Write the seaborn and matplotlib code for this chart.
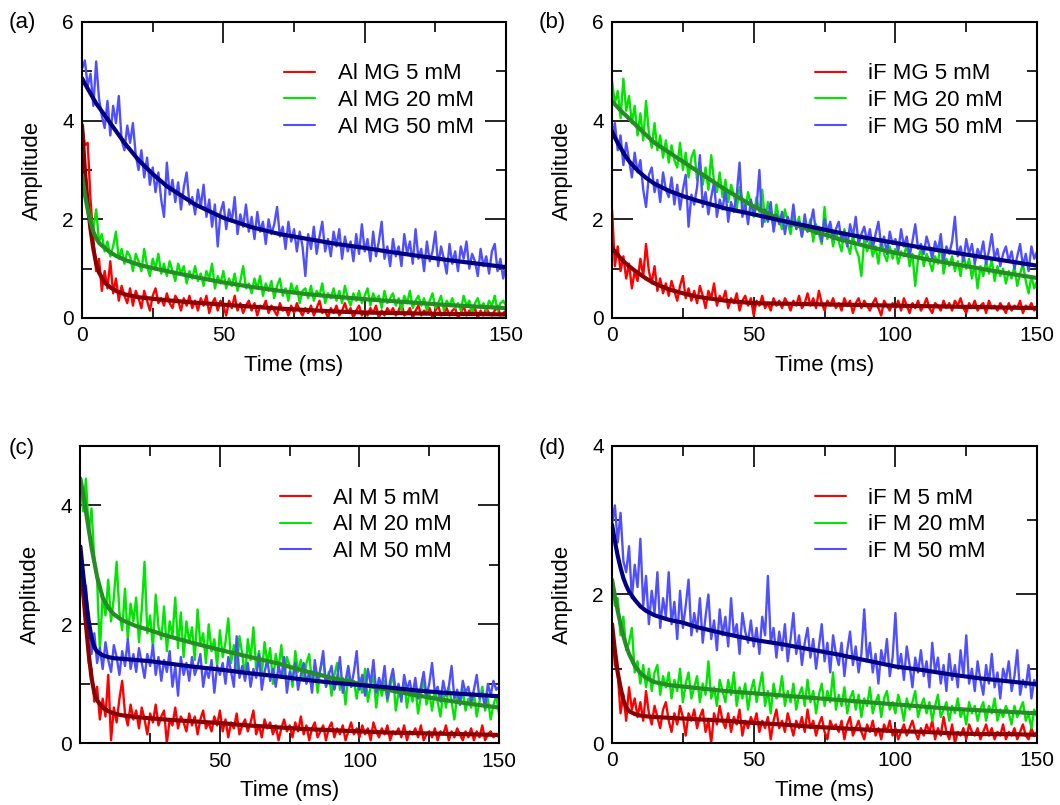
import numpy as np
import matplotlib
matplotlib.use("Agg")
import matplotlib.pyplot as plt
from matplotlib.ticker import MultipleLocator, FixedLocator
import seaborn as sns

# ---------------- data ----------------
T = np.arange(0, 151)  # ms, 1 ms sampling of the measured traces
FIT_T = [0, 1, 2, 3, 4, 5, 6, 8, 10, 12, 15, 20, 25, 30, 40, 50, 60, 70,
         80, 90, 100, 110, 120, 130, 140, 150]

# (a) Al MG
A_RED = [3.95, 3.50, 3.55, 2.40, 1.60, 0.95, 1.20, 0.55, 0.95, 0.60,
         1.15, 0.50, 0.80, 0.35, 0.65, 0.45, 0.30, 0.60, 0.25, 0.55,
         0.40, 0.20, 0.55, 0.35, 0.15, 0.45, 0.60, 0.30, 0.40, 0.25,
         0.50, 0.30, 0.20, 0.45, 0.35, 0.15, 0.40, 0.25, 0.45, 0.20,
         0.35, 0.15, 0.40, 0.25, 0.45, 0.10, 0.30, 0.40, 0.15, 0.35,
         0.25, 0.05, 0.35, 0.20, 0.45, 0.15, 0.30, 0.10, 0.25, 0.35,
         0.15, 0.30, 0.05, 0.25, 0.20, 0.35, 0.10, 0.25, 0.15, 0.05,
         0.30, 0.15, 0.20, 0.05, 0.25, 0.10, 0.30, 0.15, 0.05, 0.20,
         0.10, 0.25, 0.05, 0.20, 0.35, 0.10, 0.15, 0.00, 0.20, 0.10,
         0.25, 0.05, 0.15, 0.30, 0.10, 0.20, 0.00, 0.15, 0.25, 0.05,
         0.15, 0.05, 0.20, 0.10, 0.25, 0.00, 0.15, 0.05, 0.20, 0.10,
         0.20, 0.05, 0.15, 0.30, 0.05, 0.10, 0.20, 0.00, 0.15, 0.25,
         0.05, 0.15, 0.10, 0.20, 0.00, 0.15, 0.25, 0.05, 0.10, 0.20,
         0.05, 0.15, 0.20, 0.00, 0.10, 0.25, 0.05, 0.15, 0.10, 0.20,
         0.00, 0.15, 0.05, 0.20, 0.10, 0.05, 0.15, 0.25, 0.05, 0.10,
         0.15]
A_GREEN = [2.95, 2.60, 2.45, 2.05, 1.80, 2.20, 1.55, 1.70, 1.35, 1.55,
           1.25, 1.45, 1.75, 1.20, 1.40, 1.10, 1.35, 1.25, 0.95, 1.30,
           1.15, 0.95, 1.40, 1.05, 0.85, 1.20, 1.00, 1.30, 0.90, 1.10,
           0.85, 1.15, 0.95, 0.75, 1.10, 0.90, 1.05, 0.70, 0.95, 0.80,
           1.05, 0.75, 0.90, 0.65, 0.95, 0.80, 1.10, 0.60, 0.85, 0.70,
           0.95, 0.60, 0.80, 0.65, 0.90, 0.55, 0.75, 1.05, 0.60, 0.70,
           0.50, 0.80, 0.60, 0.85, 0.45, 0.70, 0.55, 0.75, 0.40, 0.65,
           0.80, 0.45, 0.60, 0.35, 0.70, 0.50, 0.65, 0.30, 0.55, 0.60,
           0.40, 0.65, 0.35, 0.55, 0.45, 0.70, 0.30, 0.50, 0.40, 0.60,
           0.35, 0.55, 0.30, 0.65, 0.40, 0.25, 0.50, 0.35, 0.55, 0.30,
           0.45, 0.60, 0.25, 0.50, 0.35, 0.45, 0.20, 0.55, 0.30, 0.40,
           0.50, 0.25, 0.40, 0.15, 0.45, 0.30, 0.55, 0.20, 0.35, 0.45,
           0.25, 0.40, 0.15, 0.35, 0.50, 0.20, 0.30, 0.45, 0.15, 0.35,
           0.25, 0.40, 0.20, 0.30, 0.15, 0.45, 0.25, 0.35, 0.10, 0.30,
           0.40, 0.20, 0.30, 0.15, 0.35, 0.25, 0.45, 0.15, 0.30, 0.35,
           0.25]
A_BLUE = [5.05, 5.22, 4.70, 4.95, 4.30, 5.20, 4.45, 4.10, 3.85, 4.40,
          3.70, 4.30, 3.95, 4.50, 3.60, 3.40, 3.90, 3.55, 3.95, 3.30,
          3.00, 3.40, 2.85, 3.25, 2.70, 3.05, 2.55, 2.95, 2.40, 2.05,
          3.15, 2.50, 2.80, 2.35, 2.75, 2.20, 2.65, 2.95, 2.30, 2.45,
          2.10, 2.60, 2.25, 2.70, 2.05, 2.40, 1.85, 2.30, 1.45, 2.15,
          2.35, 1.80, 2.20, 1.95, 2.45, 1.70, 2.10, 1.85, 2.30, 1.75,
          2.05, 1.60, 2.15, 1.75, 1.95, 1.50, 2.00, 1.70, 1.90, 2.25,
          1.65, 1.85, 1.40, 1.95, 1.55, 1.80, 1.35, 1.75, 1.45, 0.85,
          1.70, 1.40, 1.85, 1.30, 1.65, 1.95, 1.35, 1.60, 1.25, 1.75,
          1.45, 1.80, 1.20, 1.65, 1.35, 1.55, 1.15, 1.70, 1.30, 1.90,
          1.35, 1.60, 1.15, 1.75, 1.25, 1.55, 1.95, 1.20, 1.45, 1.05,
          1.60, 1.25, 1.45, 1.05, 1.70, 1.30, 1.55, 1.10, 1.80, 1.20,
          1.40, 0.95, 1.55, 1.15, 1.35, 1.75, 1.05, 1.45, 1.20, 0.90,
          1.50, 1.10, 1.35, 0.95, 1.45, 1.20, 1.55, 1.00, 1.30, 1.15,
          0.85, 1.40, 1.05, 1.25, 0.90, 1.35, 1.50, 0.95, 1.20, 0.80,
          1.10]
A_RED_FIT = [3.9, 3.0, 2.3, 1.8, 1.4, 1.1, 0.92, 0.72, 0.62, 0.55, 0.48, 0.42, 0.39,
             0.36, 0.31, 0.27, 0.23, 0.19, 0.16, 0.13, 0.11, 0.10, 0.09, 0.08, 0.08, 0.07]
A_GREEN_FIT = [2.9, 2.5, 2.2, 1.95, 1.75, 1.62, 1.52, 1.42, 1.33, 1.26, 1.18, 1.08, 1.01,
               0.95, 0.83, 0.72, 0.63, 0.55, 0.48, 0.43, 0.38, 0.34, 0.30, 0.26, 0.23, 0.20]
A_BLUE_FIT = [4.86, 4.75, 4.65, 4.55, 4.45, 4.35, 4.27, 4.11, 3.95, 3.79, 3.55, 3.20, 2.92,
              2.67, 2.30, 2.03, 1.84, 1.70, 1.60, 1.50, 1.42, 1.33, 1.25, 1.17, 1.10, 1.03]

# (b) iF MG
B_RED = [2.20, 1.05, 1.45, 0.95, 1.25, 0.80, 1.10, 0.60, 0.95, 0.75,
         1.20, 0.85, 1.50, 0.95, 0.70, 1.05, 0.55, 0.80, 0.50, 0.70,
         0.45, 0.75, 0.55, 0.35, 0.65, 0.85, 0.40, 0.60, 0.35, 0.55,
         0.30, 0.65, 0.45, 0.20, 0.55, 0.40, 0.70, 0.25, 0.45, 0.35,
         0.55, 0.20, 0.40, 0.30, 0.50, 0.15, 0.35, 0.45, 0.25, 0.40,
         0.05, 0.35, 0.25, 0.45, 0.20, 0.30, 0.15, 0.40, 0.25, 0.35,
         0.20, 0.40, 0.30, 0.15, 0.35, 0.25, 0.45, 0.20, 0.30, 0.50,
         0.25, 0.40, 0.20, 0.55, 0.30, 0.15, 0.35, 0.25, 0.40, 0.20,
         0.30, 0.15, 0.40, 0.25, 0.35, 0.10, 0.30, 0.40, 0.20, 0.35,
         0.25, 0.15, 0.30, 0.40, 0.20, 0.05, 0.35, 0.25, 0.15, 0.30,
         0.20, 0.35, 0.15, 0.40, 0.25, 0.10, 0.30, 0.20, 0.35, 0.15,
         0.25, 0.40, 0.20, 0.10, 0.30, 0.25, 0.15, 0.35, 0.20, 0.30,
         0.15, 0.35, 0.25, 0.40, 0.20, 0.10, 0.30, 0.20, 0.35, 0.15,
         0.25, 0.30, 0.10, 0.35, 0.20, 0.25, 0.15, 0.30, 0.20, 0.10,
         0.30, 0.15, 0.25, 0.20, 0.35, 0.10, 0.25, 0.20, 0.30, 0.15,
         0.25]
B_GREEN = [4.80, 4.35, 4.60, 4.05, 4.85, 4.20, 4.50, 3.95, 4.30, 3.70,
           4.15, 3.60, 4.40, 3.75, 3.45, 3.95, 3.40, 3.70, 3.25, 3.60,
           3.15, 3.50, 3.20, 3.05, 3.55, 3.00, 3.35, 2.85, 3.25, 3.40,
           2.80, 3.15, 2.70, 3.05, 2.60, 3.30, 2.75, 2.55, 2.95, 2.45,
           2.80, 2.35, 2.70, 2.50, 2.20, 2.65, 2.40, 2.15, 2.55, 2.30,
           2.05, 2.45, 2.15, 2.60, 1.95, 2.35, 2.10, 1.85, 2.30, 2.00,
           1.80, 2.20, 1.95, 1.70, 2.10, 1.85, 2.05, 1.65, 1.95, 1.75,
           2.00, 1.55, 1.90, 1.70, 1.50, 2.25, 1.60, 1.85, 1.45, 1.75,
           1.55, 1.35, 1.80, 1.50, 1.30, 1.70, 1.40, 1.25, 0.85, 1.60,
           1.35, 1.55, 1.25, 1.45, 1.10, 1.60, 1.30, 1.15, 1.45, 1.20,
           1.40, 1.10, 1.35, 1.25, 1.50, 1.05, 1.30, 0.65, 1.20, 1.40,
           1.05, 1.30, 1.15, 0.95, 1.25, 1.10, 1.55, 0.90, 1.20, 1.05,
           1.25, 0.95, 1.15, 0.85, 1.30, 1.00, 1.20, 0.80, 1.10, 0.60,
           1.05, 0.85, 1.15, 0.90, 1.20, 0.75, 1.05, 0.85, 1.00, 0.70,
           0.95, 0.80, 1.05, 0.65, 0.90, 1.10, 0.75, 0.50, 0.85, 0.60,
           0.75]
B_BLUE = [3.65, 3.95, 3.40, 3.70, 3.10, 3.55, 3.20, 2.85, 3.35, 2.95,
          3.20, 2.60, 2.25, 2.90, 3.05, 2.55, 2.80, 2.35, 2.95, 2.60,
          2.45, 2.85, 2.30, 2.70, 2.20, 2.60, 2.90, 1.85, 2.50, 2.30,
          2.65, 3.30, 2.25, 2.55, 2.10, 2.45, 2.75, 2.05, 2.40, 2.20,
          2.60, 1.95, 2.35, 2.15, 2.50, 3.15, 2.05, 2.30, 1.90, 2.40,
          2.10, 2.25, 3.00, 1.85, 2.20, 1.95, 2.35, 1.75, 2.10, 1.90,
          2.15, 1.70, 2.05, 1.85, 2.30, 1.80, 1.95, 1.65, 2.10, 1.75,
          1.90, 2.20, 1.70, 1.85, 1.55, 2.00, 1.75, 1.95, 1.60, 1.80,
          1.95, 1.55, 1.75, 1.45, 1.90, 1.65, 2.05, 1.50, 1.70, 1.85,
          1.55, 1.80, 1.40, 1.70, 1.95, 1.45, 1.65, 1.30, 1.75, 1.50,
          1.60, 1.35, 1.80, 1.45, 1.65, 1.25, 1.55, 1.90, 1.40, 1.50,
          1.30, 1.65, 1.45, 1.20, 1.55, 1.35, 1.70, 1.15, 1.45, 1.30,
          1.55, 2.05, 1.25, 1.45, 1.15, 1.60, 1.30, 1.50, 1.10, 1.40,
          1.25, 1.55, 1.10, 1.35, 1.70, 1.20, 1.40, 1.05, 1.30, 1.45,
          1.15, 1.35, 1.00, 1.25, 1.50, 1.05, 1.30, 0.95, 1.45, 1.20,
          1.35]
B_RED_FIT = [1.42, 1.35, 1.28, 1.21, 1.15, 1.10, 1.05, 0.96, 0.88, 0.80, 0.70, 0.58, 0.50,
             0.43, 0.35, 0.30, 0.29, 0.28, 0.27, 0.26, 0.25, 0.24, 0.23, 0.22, 0.21, 0.20]
B_GREEN_FIT = [4.39, 4.33, 4.27, 4.21, 4.15, 4.10, 4.04, 3.93, 3.82, 3.71, 3.55, 3.36, 3.17,
               2.98, 2.60, 2.26, 1.98, 1.78, 1.60, 1.45, 1.32, 1.20, 1.10, 1.00, 0.90, 0.81]
B_BLUE_FIT = [3.78, 3.66, 3.55, 3.45, 3.35, 3.26, 3.18, 3.05, 2.94, 2.84, 2.72, 2.58, 2.47,
              2.38, 2.22, 2.10, 1.97, 1.85, 1.73, 1.62, 1.52, 1.42, 1.33, 1.24, 1.15, 1.06]

# (c) Al M
C_RED = [2.90, 2.45, 2.15, 1.35, 1.25, 0.70, 0.95, 0.40, 0.75, 0.45,
         1.15, 0.05, 0.60, 0.35, 0.75, 1.05, 0.50, 0.30, 0.65, 0.40,
         0.55, 0.25, 0.60, 0.40, 0.15, 0.50, 0.35, 0.65, 0.30, 0.45,
         0.55, 0.00, 0.40, 0.30, 0.60, 0.25, 0.45, 0.35, 0.20, 0.50,
         0.30, 0.45, 0.15, 0.40, 0.55, 0.25, 0.35, 0.20, 0.45, 0.30,
         0.55, 0.20, 0.40, 0.10, 0.35, 0.25, 0.50, 0.15, 0.30, 0.40,
         0.20, 0.35, 0.55, 0.15, 0.30, 0.10, 0.40, 0.25, 0.35, 0.15,
         0.30, 0.05, 0.25, 0.40, 0.20, 0.30, 0.10, 0.35, 0.20, 0.45,
         0.15, 0.30, 0.05, 0.25, 0.35, 0.10, 0.20, 0.30, 0.05, 0.25,
         0.35, 0.10, 0.25, 0.15, 0.30, 0.05, 0.20, 0.35, 0.15, 0.25,
         0.10, 0.30, 0.15, 0.25, 0.05, 0.35, 0.20, 0.10, 0.25, 0.15,
         0.30, 0.05, 0.20, 0.15, 0.25, 0.10, 0.30, 0.05, 0.20, 0.15,
         0.25, 0.10, 0.30, 0.05, 0.15, 0.20, 0.10, 0.25, 0.05, 0.20,
         0.15, 0.30, 0.05, 0.20, 0.10, 0.25, 0.15, 0.05, 0.20, 0.10,
         0.25, 0.05, 0.20, 0.10, 0.30, 0.05, 0.15, 0.20, 0.10, 0.15,
         0.10]
C_GREEN = [4.45, 3.90, 4.45, 3.55, 3.95, 3.10, 2.75, 1.55, 2.50, 2.15,
           2.75, 2.05, 2.45, 3.05, 2.20, 1.90, 2.60, 1.75, 2.35, 2.05,
           2.45, 1.70, 2.25, 3.05, 1.85, 2.15, 1.60, 2.50, 1.95, 1.75,
           2.30, 1.55, 2.05, 1.80, 2.45, 1.60, 2.20, 1.45, 2.05, 1.70,
           1.95, 1.40, 2.25, 1.65, 1.85, 1.35, 2.00, 1.55, 1.75, 1.30,
           1.90, 1.45, 1.70, 2.10, 1.35, 1.65, 1.20, 1.80, 1.50, 1.10,
           1.75, 1.40, 1.95, 1.25, 1.55, 1.15, 1.70, 1.35, 1.60, 1.00,
           1.50, 1.25, 1.65, 1.10, 1.45, 1.30, 0.95, 1.55, 1.20, 1.40,
           1.05, 1.35, 1.50, 1.00, 1.30, 0.85, 1.25, 1.45, 0.95, 1.20,
           0.80, 1.15, 1.35, 0.90, 1.10, 0.65, 1.20, 0.95, 1.05, 0.75,
           1.10, 0.85, 1.25, 0.70, 0.95, 1.15, 0.60, 1.00, 0.80, 1.05,
           0.70, 0.95, 1.20, 0.55, 0.85, 0.75, 1.05, 0.60, 0.90, 0.70,
           0.95, 0.50, 0.80, 1.10, 0.65, 0.85, 0.55, 0.90, 0.70, 0.45,
           0.85, 0.60, 0.95, 0.70, 0.40, 0.80, 0.65, 0.90, 0.55, 0.75,
           0.60, 0.85, 0.45, 0.70, 0.95, 0.55, 0.75, 0.40, 0.65, 0.80,
           0.50]
C_BLUE = [3.30, 2.55, 2.65, 2.05, 1.50, 1.85, 1.35, 1.60, 1.25, 1.70,
          1.40, 1.20, 1.65, 1.45, 1.15, 1.55, 1.30, 1.75, 1.25, 1.50,
          1.20, 1.60, 1.35, 1.10, 1.50, 1.30, 1.65, 1.15, 1.45, 1.05,
          1.40, 1.20, 1.55, 0.95, 1.30, 0.80, 1.45, 1.15, 1.35, 1.05,
          1.45, 1.15, 1.30, 1.50, 0.95, 1.25, 1.10, 1.40, 0.85, 1.30,
          1.15, 1.35, 1.00, 1.45, 1.20, 0.95, 1.80, 1.10, 1.30, 1.05,
          1.35, 0.95, 1.25, 1.10, 1.50, 0.90, 1.20, 1.40, 1.05, 1.25,
          0.95, 1.30, 1.10, 1.45, 0.85, 1.20, 1.05, 1.35, 0.90, 1.15,
          1.35, 1.00, 1.20, 0.85, 1.40, 1.05, 1.25, 1.55, 0.95, 1.15,
          1.30, 0.90, 1.10, 1.45, 0.85, 1.05, 1.30, 0.95, 1.20, 1.55,
          0.90, 1.15, 0.80, 1.25, 1.00, 1.40, 0.85, 1.10, 0.95, 1.30,
          0.75, 1.05, 1.25, 0.85, 1.00, 0.70, 1.15, 0.90, 1.05, 0.80,
          1.10, 0.75, 0.95, 1.20, 0.80, 1.00, 1.35, 0.85, 0.95, 0.70,
          1.05, 0.80, 0.95, 1.30, 0.75, 0.90, 0.65, 1.05, 0.85, 0.95,
          0.70, 0.90, 1.15, 0.75, 0.85, 0.60, 1.00, 0.80, 1.05, 0.90,
          0.95]
C_RED_FIT = [2.87, 2.55, 2.00, 1.50, 1.10, 0.85, 0.72, 0.60, 0.54, 0.50, 0.47, 0.44, 0.42,
             0.40, 0.37, 0.34, 0.30, 0.27, 0.24, 0.22, 0.20, 0.18, 0.17, 0.16, 0.15, 0.14]
C_GREEN_FIT = [4.45, 4.20, 3.90, 3.60, 3.30, 3.05, 2.80, 2.45, 2.28, 2.17, 2.07, 1.97, 1.90,
               1.82, 1.69, 1.57, 1.46, 1.35, 1.22, 1.10, 1.00, 0.90, 0.81, 0.73, 0.66, 0.60]
C_BLUE_FIT = [3.31, 2.85, 2.42, 2.05, 1.78, 1.62, 1.54, 1.48, 1.45, 1.43, 1.42, 1.40, 1.38,
              1.35, 1.29, 1.24, 1.18, 1.13, 1.07, 1.02, 0.98, 0.94, 0.89, 0.85, 0.82, 0.79]

# (d) iF M
D_RED = [1.60, 1.05, 0.95, 0.40, 0.65, 0.30, 0.75, 0.45, 0.60, 0.35,
         0.55, 0.30, 0.70, 0.40, 0.25, 0.50, 0.35, 0.20, 0.45, 0.55,
         0.30, 0.15, 0.40, 0.25, 0.50, 0.35, 0.10, 0.40, 0.30, 0.45,
         0.20, 0.35, 0.45, 0.15, 0.30, 0.00, 0.40, 0.25, 0.50, 0.30,
         0.20, 0.40, 0.15, 0.35, 0.25, 0.45, 0.10, 0.30, 0.20, 0.35,
         0.25, 0.40, 0.15, 0.30, 0.20, 0.35, 0.05, 0.30, 0.45, 0.20,
         0.30, 0.15, 0.40, 0.25, 0.10, 0.30, 0.20, 0.35, 0.15, 0.45,
         0.20, 0.30, 0.10, 0.25, 0.35, 0.15, 0.05, 0.30, 0.20, 0.25,
         0.15, 0.30, 0.05, 0.25, 0.35, 0.10, 0.20, 0.30, 0.15, 0.05,
         0.25, 0.15, 0.30, 0.10, 0.20, 0.05, 0.25, 0.15, 0.30, 0.10,
         0.20, 0.05, 0.15, 0.25, 0.10, 0.20, 0.30, 0.15, 0.05, 0.20,
         0.10, 0.25, 0.15, 0.30, 0.05, 0.20, 0.10, 0.35, 0.15, 0.05,
         0.25, 0.00, 0.15, 0.10, 0.20, 0.05, 0.25, 0.15, 0.10, 0.20,
         0.05, 0.15, 0.25, 0.10, 0.20, 0.05, 0.15, 0.10, 0.25, 0.05,
         0.15, 0.10, 0.20, 0.05, 0.15, 0.25, 0.10, 0.05, 0.20, 0.10,
         0.15]
D_GREEN = [2.20, 1.85, 1.95, 1.45, 1.70, 1.25, 1.35, 1.55, 0.95, 1.10,
           0.80, 1.05, 0.75, 1.00, 0.70, 0.95, 1.05, 0.65, 0.90, 0.75,
           0.95, 0.60, 0.85, 0.70, 1.00, 0.55, 0.80, 0.95, 0.60, 0.75,
           0.90, 0.55, 0.80, 0.65, 1.10, 0.60, 0.75, 0.50, 0.85, 0.70,
           0.55, 0.85, 0.65, 0.95, 0.50, 0.75, 0.60, 0.80, 0.45, 0.70,
           0.85, 0.55, 0.75, 0.95, 0.50, 0.70, 0.40, 0.80, 0.60, 0.65,
           0.90, 0.50, 0.70, 0.55, 0.80, 0.45, 0.65, 0.75, 0.50, 0.85,
           0.55, 0.70, 0.40, 0.65, 0.80, 0.50, 0.70, 0.55, 0.95, 0.45,
           0.65, 0.50, 0.75, 0.40, 0.60, 0.70, 0.45, 0.65, 0.35, 0.60,
           0.50, 0.75, 0.40, 0.55, 0.65, 0.35, 0.60, 0.70, 0.45, 0.55,
           0.40, 0.65, 0.50, 0.30, 0.60, 0.45, 0.55, 0.70, 0.35, 0.50,
           0.60, 0.40, 0.55, 0.30, 0.50, 0.65, 0.35, 0.45, 0.55, 0.30,
           0.50, 0.40, 0.60, 0.35, 0.45, 0.25, 0.55, 0.40, 0.50, 0.30,
           0.45, 0.55, 0.30, 0.50, 0.40, 0.60, 0.30, 0.45, 0.35, 0.50,
           0.40, 0.25, 0.50, 0.35, 0.45, 0.55, 0.30, 0.40, 0.20, 0.45,
           0.35]
D_BLUE = [2.95, 3.20, 2.70, 3.10, 2.45, 2.30, 2.65, 1.95, 2.40, 2.10,
          2.75, 1.85, 2.25, 1.60, 2.05, 1.75, 2.30, 1.55, 1.95, 1.70,
          2.30, 1.60, 1.90, 1.40, 2.05, 1.55, 1.85, 2.20, 1.45, 1.75,
          1.50, 1.95, 1.35, 1.70, 2.00, 1.40, 1.65, 1.25, 1.80, 1.45,
          1.70, 1.30, 1.95, 1.45, 1.60, 1.20, 1.75, 1.50, 1.35, 1.65,
          1.30, 1.55, 1.20, 1.70, 1.45, 2.25, 1.35, 1.55, 1.15, 1.50,
          1.25, 1.60, 1.10, 1.40, 1.75, 1.20, 1.45, 1.05, 1.35, 1.55,
          1.15, 1.40, 1.00, 1.30, 1.60, 1.10, 1.35, 0.95, 1.45, 1.20,
          1.05, 1.35, 0.90, 1.25, 1.50, 1.05, 1.30, 0.95, 1.20, 1.80,
          1.10, 1.35, 0.95, 1.20, 0.80, 1.25, 1.05, 1.40, 0.90, 1.15,
          1.75, 1.00, 1.20, 0.85, 1.30, 1.05, 0.75, 1.15, 0.95, 1.25,
          0.90, 1.10, 0.75, 1.35, 0.95, 1.15, 0.80, 1.05, 0.70, 1.20,
          0.85, 1.05, 0.75, 1.25, 0.90, 1.45, 0.80, 1.00, 0.70, 1.10,
          0.85, 0.65, 1.05, 0.80, 1.20, 0.75, 0.95, 0.60, 1.00, 0.85,
          1.10, 0.70, 0.90, 1.25, 0.65, 0.85, 0.75, 1.05, 0.60, 0.85,
          0.75]
D_RED_FIT = [1.60, 1.25, 0.95, 0.75, 0.58, 0.48, 0.43, 0.39, 0.37, 0.36, 0.35, 0.34, 0.33,
             0.32, 0.30, 0.27, 0.25, 0.22, 0.20, 0.18, 0.16, 0.15, 0.13, 0.12, 0.12, 0.11]
D_GREEN_FIT = [2.20, 1.98, 1.78, 1.60, 1.44, 1.31, 1.20, 1.04, 0.94, 0.88, 0.82, 0.78, 0.76,
               0.74, 0.70, 0.67, 0.64, 0.61, 0.58, 0.55, 0.52, 0.49, 0.46, 0.44, 0.42, 0.40]
D_BLUE_FIT = [2.94, 2.72, 2.52, 2.36, 2.22, 2.12, 2.04, 1.93, 1.84, 1.78, 1.72, 1.66, 1.62,
              1.56, 1.47, 1.39, 1.33, 1.26, 1.19, 1.11, 1.03, 0.98, 0.92, 0.87, 0.83, 0.79]

LABELS_A = ["Al MG 5 mM", "Al MG 20 mM", "Al MG 50 mM"]
LABELS_B = ["iF MG 5 mM", "iF MG 20 mM", "iF MG 50 mM"]
LABELS_C = ["Al M 5 mM", "Al M 20 mM", "Al M 50 mM"]
LABELS_D = ["iF M 5 mM", "iF M 20 mM", "iF M 50 mM"]
PANEL_TAGS = ["(a)", "(b)", "(c)", "(d)"]

# ---------------- style ----------------
sns.set_style("ticks")
plt.rcParams["font.family"] = ["Liberation Sans", "DejaVu Sans"]
plt.rcParams.update({
    "font.size": 16,
    "text.color": "black",
    "axes.labelcolor": "black",
    "xtick.color": "black",
    "ytick.color": "black",
    "axes.edgecolor": "black",
})

NOISE_COLORS = ["#ff0000", "#00e600", "#4f4fff"]
FIT_COLORS = ["#8b0000", "#268c26", "#000080"]
FS = 16
TICK_FS = 15

fig = plt.figure(figsize=(10.6, 8.05), dpi=100)

panels = [
    dict(rect=[0.0774, 0.6050, 0.4000, 0.3677], noisy=[A_RED, A_GREEN, A_BLUE],
         fits=[A_RED_FIT, A_GREEN_FIT, A_BLUE_FIT], labels=LABELS_A, ymax=6,
         xmajor=[0, 50, 100, 150], tag_xy=(0.008, 0.972)),
    dict(rect=[0.5774, 0.6050, 0.4010, 0.3677], noisy=[B_RED, B_GREEN, B_BLUE],
         fits=[B_RED_FIT, B_GREEN_FIT, B_BLUE_FIT], labels=LABELS_B, ymax=6,
         xmajor=[0, 50, 100, 150], tag_xy=(0.508, 0.972)),
    dict(rect=[0.0758, 0.0767, 0.3950, 0.3693], noisy=[C_RED, C_GREEN, C_BLUE],
         fits=[C_RED_FIT, C_GREEN_FIT, C_BLUE_FIT], labels=LABELS_C, ymax=5,
         xmajor=[50, 100, 150], tag_xy=(0.008, 0.443)),
    dict(rect=[0.5774, 0.0770, 0.4010, 0.3690], noisy=[D_RED, D_GREEN, D_BLUE],
         fits=[D_RED_FIT, D_GREEN_FIT, D_BLUE_FIT], labels=LABELS_D, ymax=4,
         xmajor=[0, 50, 100, 150], tag_xy=(0.508, 0.443)),
]

for p, tag in zip(panels, PANEL_TAGS):
    ax = fig.add_axes(p["rect"])
    for vals, col, lab in zip(p["noisy"], NOISE_COLORS, p["labels"]):
        sns.lineplot(x=T, y=vals, ax=ax, color=col, lw=1.7, label=lab)
    for vals, col in zip(p["fits"], FIT_COLORS):
        sns.lineplot(x=FIT_T, y=vals, ax=ax, color=col, lw=3.0, label="_nolegend_")
    ax.set_xlim(0, 150)
    ax.set_ylim(0, p["ymax"])
    ax.xaxis.set_major_locator(FixedLocator(p["xmajor"]))
    ax.xaxis.set_minor_locator(FixedLocator([25, 75, 125]))
    ax.yaxis.set_major_locator(MultipleLocator(2))
    ax.yaxis.set_minor_locator(MultipleLocator(1))
    ax.tick_params(which="both", direction="in", top=True, right=True,
                   labelsize=TICK_FS, width=1.2, color="black", labelcolor="black")
    ax.tick_params(which="major", length=15, pad=6)
    ax.tick_params(which="minor", length=7.5)
    for s in ax.spines.values():
        s.set_linewidth(1.5)
        s.set_color("black")
    ax.set_xlabel("Time (ms)", fontsize=FS, color="black")
    ax.set_ylabel("Amplitude", fontsize=FS, color="black")
    ax.xaxis.set_label_coords(0.5, -0.125)
    ax.yaxis.set_label_coords(-0.093, 0.5)
    leg = ax.legend(loc="upper left", bbox_to_anchor=(0.477, 0.860), frameon=False,
                    fontsize=FS, handlelength=1.4, handletextpad=1.0,
                    labelspacing=0.26, borderaxespad=0, borderpad=0)
    for h in leg.get_lines():
        h.set_linewidth(1.5)
    fig.text(p["tag_xy"][0], p["tag_xy"][1], tag, fontsize=FS, va="center", ha="left")

fig.savefig("out.png", dpi=100)
